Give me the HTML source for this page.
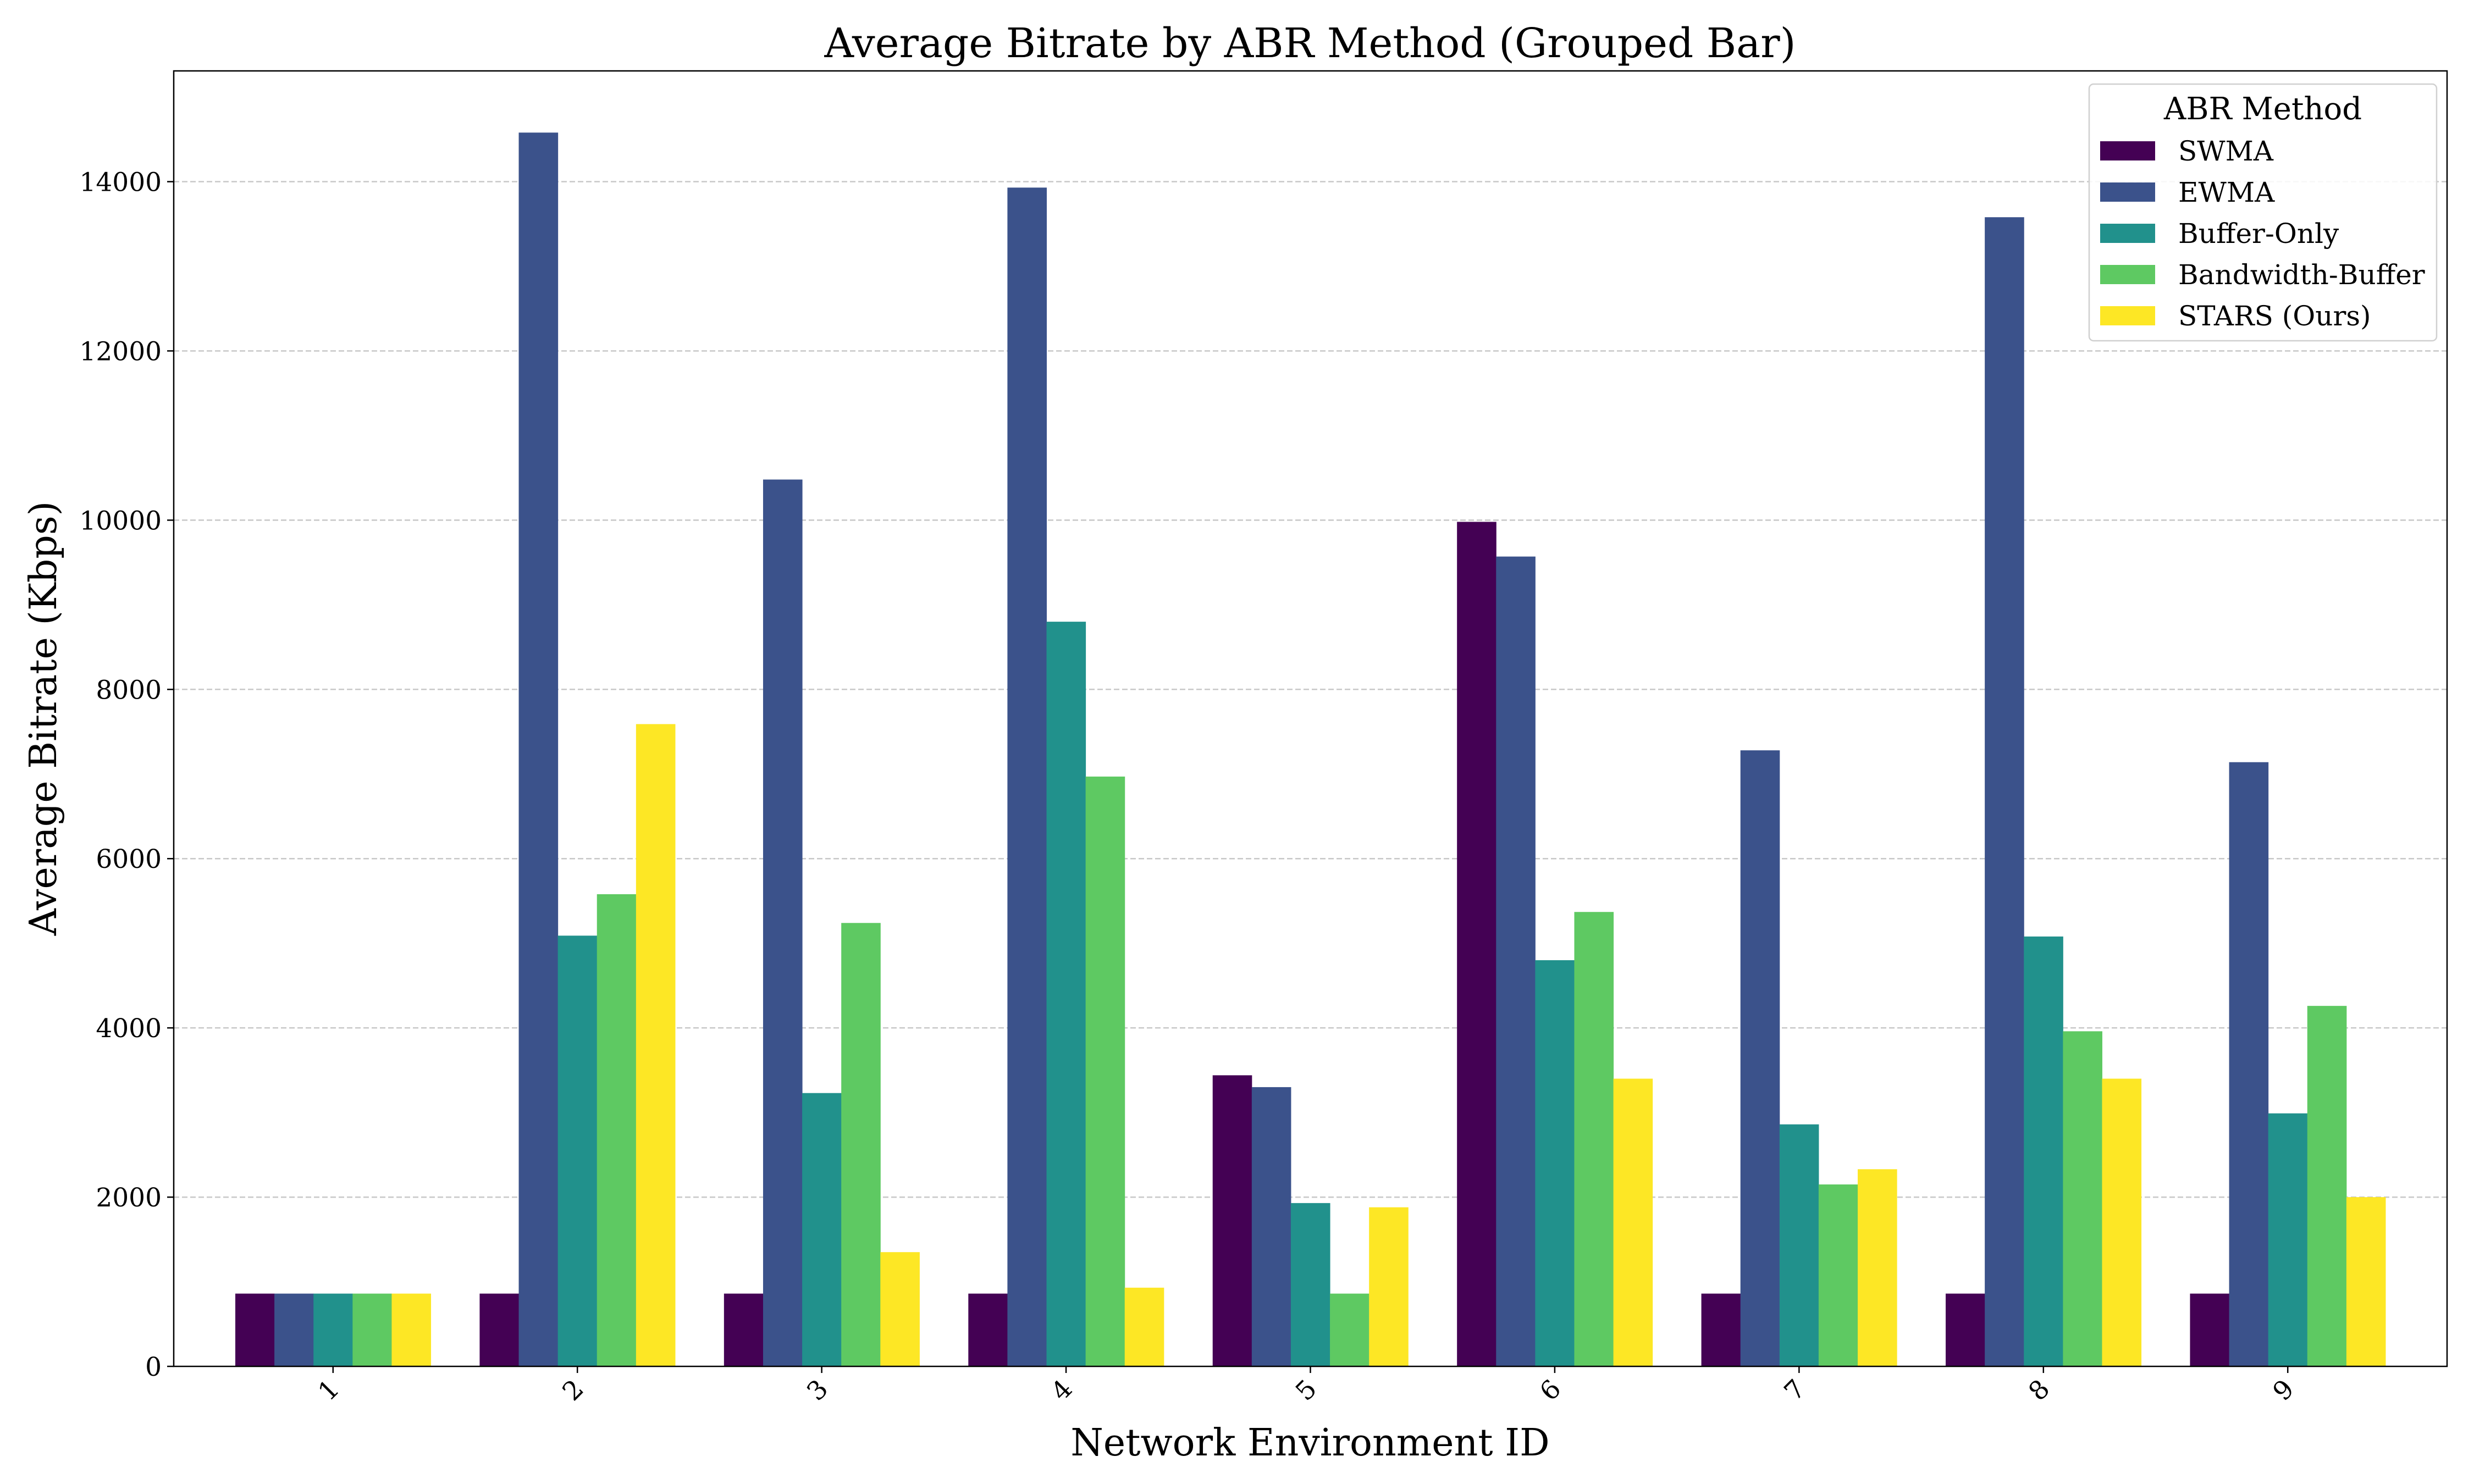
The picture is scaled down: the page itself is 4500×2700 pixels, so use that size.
<!DOCTYPE html>
<html><head><meta charset="utf-8"><style>
html,body{margin:0;padding:0;background:#fff;}
svg{display:block;font-family:"DejaVu Serif","Liberation Serif",serif;}
</style></head><body>
<svg id="chart" width="4500" height="2700" viewBox="0 0 4500 2700" xmlns="http://www.w3.org/2000/svg">
<rect width="4500" height="2700" fill="#fff"/>
<text x="2383" y="104" font-size="74" text-anchor="middle">Average Bitrate by ABR Method (Grouped Bar)</text>
<g id="grid"></g>
<g id="bars"></g>
<g id="axes"></g>
<text x="2383" y="2648" font-size="68" text-anchor="middle">Network Environment ID</text>
<text transform="translate(102,1307) rotate(-90)" font-size="68" text-anchor="middle">Average Bitrate (Kbps)</text>
<g id="legend"></g>
</svg>
<script>
const categories = ["1","2","3","4","5","6","7","8","9"];
const seriesNames = ["SWMA","EWMA","Buffer-Only","Bandwidth-Buffer","STARS (Ours)"];
const swma = [860,860,860,860,3440,9980,860,860,860];
const ewma = [860,14580,10480,13930,3300,9570,7280,13580,7140];
const bufferOnly = [860,5090,3230,8800,1930,4800,2860,5080,2990];
const bandwidthBuffer = [860,5580,5240,6970,860,5370,2150,3960,4260];
const stars = [860,7590,1350,930,1880,3400,2330,3400,2000];
const yTicks = [0,2000,4000,6000,8000,10000,12000,14000];

const series = [swma, ewma, bufferOnly, bandwidthBuffer, stars];
const colors = ["#440154","#3b528b","#21918c","#5ec962","#fde725"];
const NS = "http://www.w3.org/2000/svg";
const L = 316, R = 4451, T = 129, B = 2486;
const maxV = Math.max(...series.flat()) * 1.05;
const n = categories.length, margin = 0.652;
const unit = (R - L) / (n - 1 + 2 * margin);
const barW = unit * 0.16;
function xScale(i){ return L + (margin + i) * unit; }
function yScale(v){ return B - v / maxV * (B - T); }
function mk(tag, attrs, parent){ const e = document.createElementNS(NS, tag); for (const k in attrs) e.setAttribute(k, attrs[k]); parent.appendChild(e); return e; }

const grid = document.getElementById('grid');
const axes = document.getElementById('axes');
yTicks.forEach(t => {
  const y = yScale(t);
  if (t > 0) {
    const g = mk('line', {x1:L, x2:R, y1:y, y2:y, stroke:'#c8c8c8', 'stroke-width':2.5, 'stroke-dasharray':'10,5'}, grid);
    
    
  }
  const tk = mk('line', {x1:L-12, x2:L, y1:y, y2:y, stroke:'#000', 'stroke-width':2.5}, axes);
  
  
  const lb = mk('text', {x:L-22, y:y+17, 'font-size':47, 'text-anchor':'end'}, axes);
  lb.textContent = t;
  
  
});

const barsG = document.getElementById('bars');
categories.forEach((c, i) => {
  const cx = xScale(i);
  series.forEach((s, j) => {
    const x = cx + (j - 2.5) * barW;
    const y = yScale(s[i]);
    const r = mk('rect', {x:x, y:y, width:barW + 0.5, height:B - y, fill:colors[j]}, barsG);
    
    
  });
  const tk = mk('line', {x1:cx, x2:cx, y1:B, y2:B+12, stroke:'#000', 'stroke-width':2.5}, axes);
  
  
  const lb = mk('text', {x:0, y:0, 'font-size':47, 'text-anchor':'end', transform:'translate(' + (cx + 14) + ',' + (B + 44) + ') rotate(-45)'}, axes);
  lb.textContent = c;
  
  
});
const frame = mk('rect', {x:L, y:T, width:R-L, height:B-T, fill:'none', stroke:'#000', 'stroke-width':2.5}, axes);



const lg = document.getElementById('legend');
const box = mk('rect', {x:3800, y:153, width:632, height:467, rx:8, fill:'#fff', 'fill-opacity':0.85, stroke:'#d0d0d0', 'stroke-width':2.5}, lg);


const lt = mk('text', {x:4116, y:217, 'font-size':56, 'text-anchor':'middle'}, lg);
lt.textContent = 'ABR Method';


seriesNames.forEach((nm, j) => {
  const y = 292 + j * 75;
  const p = mk('rect', {x:3820, y:y-35, width:100, height:35, fill:colors[j]}, lg);
  
  
  const t = mk('text', {x:3962, y:y, 'font-size':50}, lg);
  t.textContent = nm;
  
  
});
</script>
</body></html>
